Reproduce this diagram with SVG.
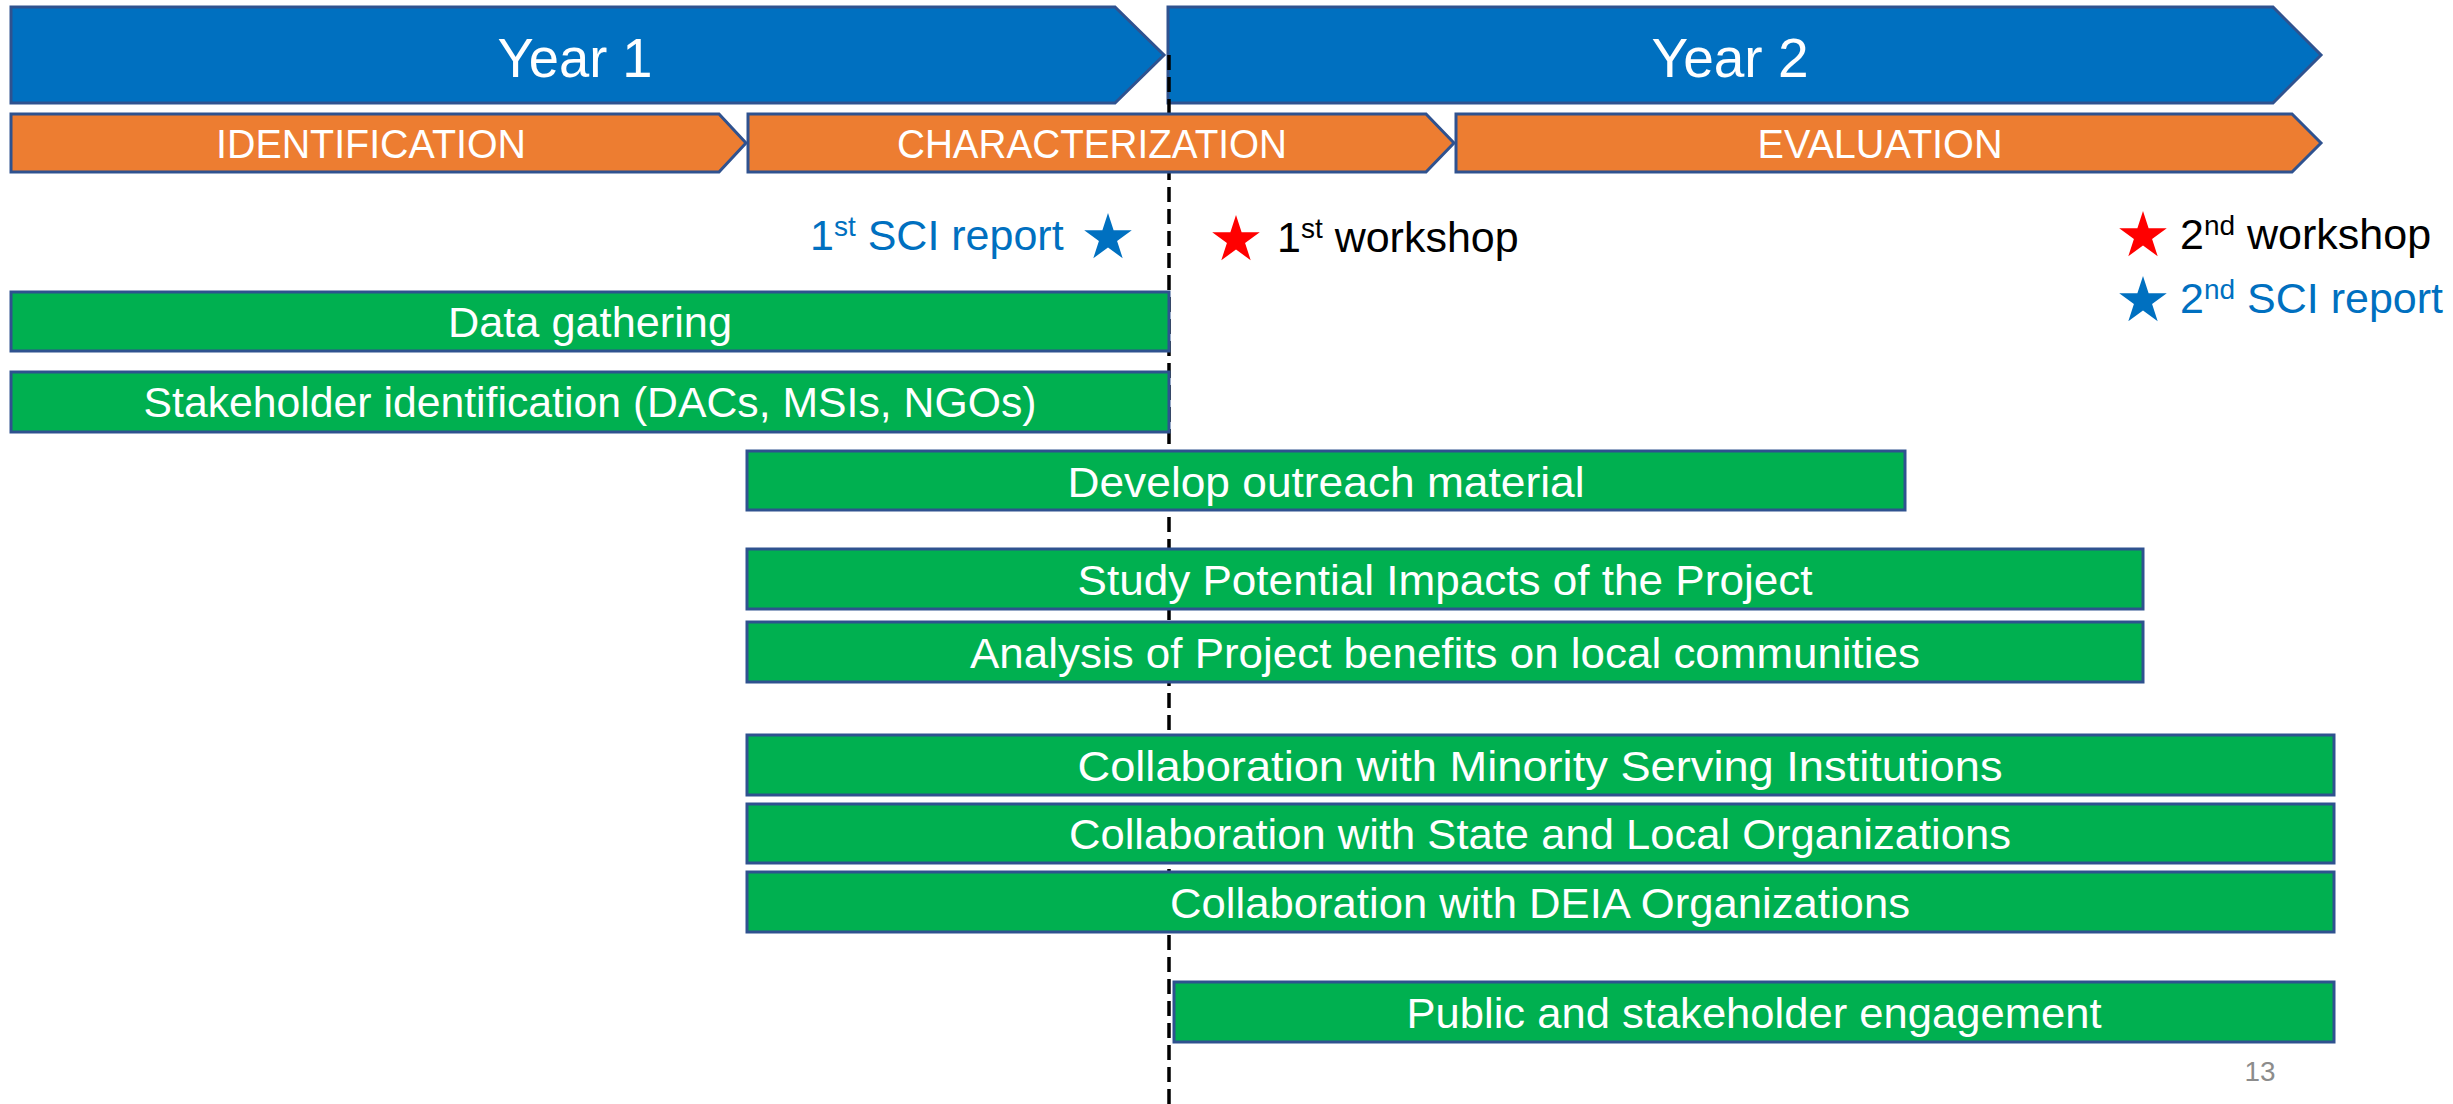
<svg xmlns="http://www.w3.org/2000/svg" xmlns:xlink="http://www.w3.org/1999/xlink" width="2453" height="1104" viewBox="0 0 2453 1104">
<style>
.year{fill:#0070C0;stroke:#2F528F;stroke-width:3}
.phase{fill:#ED7D31;stroke:#2F528F;stroke-width:3}
.task{fill:#00B050;stroke:#2F528F;stroke-width:3}
.wt{fill:#FFFFFF;font-family:"Liberation Sans",Arial,sans-serif;text-anchor:middle}
.yt{font-size:56px}
.pt{font-size:40px}
.tt{font-size:42px}
.lbl{font-family:"Liberation Sans",Arial,sans-serif;font-size:43px}
.sup{font-size:28px}
.blue{fill:#0070C0}
.black{fill:#000000}
.dash{stroke:#000000;stroke-width:3.5;stroke-dasharray:15 7;fill:none}
</style>
<defs>
<path id="star" d="M0,-25 L5.61,-7.73 L23.78,-7.73 L9.08,2.95 L14.69,20.23 L0,9.55 L-14.69,20.23 L-9.08,2.95 L-23.78,-7.73 L-5.61,-7.73 Z"/>
</defs>
<rect width="2453" height="1104" fill="#FFFFFF"/>

<g id="year1">
<polygon class="year" points="11,7 1115,7 1164,55 1115,103 11,103"/>
<text class="wt yt" x="575" y="77" textLength="155" lengthAdjust="spacingAndGlyphs">Year 1</text>
</g>
<g id="year2">
<polygon class="year" points="1168,7 2273,7 2321,55 2273,103 1168,103"/>
<text class="wt yt" x="1730" y="77" textLength="157" lengthAdjust="spacingAndGlyphs">Year 2</text>
</g>

<g id="connectors">
<line class="dash" x1="1169" y1="55" x2="1169" y2="1104"/>
</g>

<g id="identification">
<polygon class="phase" points="11,114 719,114 746,143 719,172 11,172"/>
<text class="wt pt" x="371" y="158" textLength="310" lengthAdjust="spacingAndGlyphs">IDENTIFICATION</text>
</g>
<g id="characterization">
<polygon class="phase" points="748,114 1426,114 1454,143 1426,172 748,172"/>
<text class="wt pt" x="1092" y="158" textLength="390" lengthAdjust="spacingAndGlyphs">CHARACTERIZATION</text>
</g>
<g id="evaluation">
<polygon class="phase" points="1456,114 2292,114 2321,143 2292,172 1456,172"/>
<text class="wt pt" x="1880" y="158" textLength="245" lengthAdjust="spacingAndGlyphs">EVALUATION</text>
</g>

<g id="sci-report-1">
<text class="lbl blue" x="810" y="250">1<tspan class="sup" dy="-14">st</tspan><tspan dy="14"> SCI report</tspan></text>
<use xlink:href="#star" href="#star" x="1108" y="238" fill="#0070C0"/>
</g>
<g id="workshop-1">
<use xlink:href="#star" href="#star" x="1236" y="240" fill="#FF0000"/>
<text class="lbl black" x="1277" y="252">1<tspan class="sup" dy="-14">st</tspan><tspan dy="14"> workshop</tspan></text>
</g>
<g id="workshop-2">
<use xlink:href="#star" href="#star" x="2143" y="236" fill="#FF0000"/>
<text class="lbl black" x="2180" y="249">2<tspan class="sup" dy="-14">nd</tspan><tspan dy="14"> workshop</tspan></text>
</g>
<g id="sci-report-2">
<use xlink:href="#star" href="#star" x="2143" y="301" fill="#0070C0"/>
<text class="lbl blue" x="2180" y="313">2<tspan class="sup" dy="-14">nd</tspan><tspan dy="14"> SCI report</tspan></text>
</g>

<g id="data-gathering">
<rect class="task" x="11" y="292" width="1158" height="59"/>
<text class="wt tt" x="590" y="337" textLength="284" lengthAdjust="spacingAndGlyphs">Data gathering</text>
</g>
<g id="stakeholder-identification">
<rect class="task" x="11" y="372" width="1158" height="60"/>
<text class="wt tt" x="590" y="417" textLength="893" lengthAdjust="spacingAndGlyphs">Stakeholder identification (DACs, MSIs, NGOs)</text>
</g>
<g id="develop-outreach">
<rect class="task" x="747" y="451" width="1158" height="59"/>
<text class="wt tt" x="1326" y="497" textLength="517" lengthAdjust="spacingAndGlyphs">Develop outreach material</text>
</g>
<g id="study-impacts">
<rect class="task" x="747" y="549" width="1396" height="60"/>
<text class="wt tt" x="1445" y="595" textLength="735" lengthAdjust="spacingAndGlyphs">Study Potential Impacts of the Project</text>
</g>
<g id="analysis-benefits">
<rect class="task" x="747" y="622" width="1396" height="60"/>
<text class="wt tt" x="1445" y="668" textLength="950" lengthAdjust="spacingAndGlyphs">Analysis of Project benefits on local communities</text>
</g>
<g id="collab-msi">
<rect class="task" x="747" y="735" width="1587" height="60"/>
<text class="wt tt" x="1540" y="781" textLength="925" lengthAdjust="spacingAndGlyphs">Collaboration with Minority Serving Institutions</text>
</g>
<g id="collab-state">
<rect class="task" x="747" y="804" width="1587" height="59"/>
<text class="wt tt" x="1540" y="849" textLength="942" lengthAdjust="spacingAndGlyphs">Collaboration with State and Local Organizations</text>
</g>
<g id="collab-deia">
<rect class="task" x="747" y="872" width="1587" height="60"/>
<text class="wt tt" x="1540" y="918" textLength="740" lengthAdjust="spacingAndGlyphs">Collaboration with DEIA Organizations</text>
</g>
<g id="public-engagement">
<rect class="task" x="1174" y="982" width="1160" height="60"/>
<text class="wt tt" x="1754" y="1028" textLength="695" lengthAdjust="spacingAndGlyphs">Public and stakeholder engagement</text>
</g>

<text x="2260" y="1081" font-family="'Liberation Sans',Arial,sans-serif" font-size="28" fill="#8C8C8C" text-anchor="middle" textLength="31" lengthAdjust="spacingAndGlyphs">13</text>
</svg>
